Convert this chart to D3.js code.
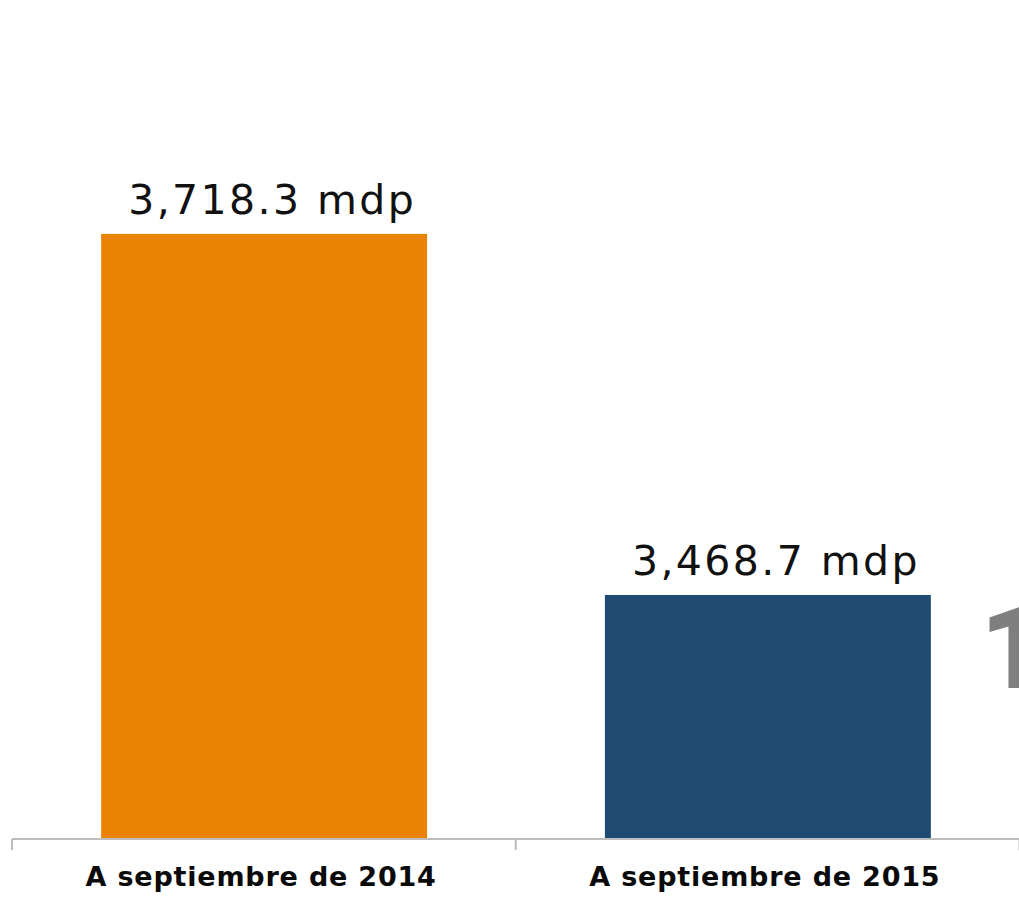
<!DOCTYPE html>
<html><head><meta charset="utf-8">
<script src="https://cdn.jsdelivr.net/npm/d3@7"></script>
<style>html,body{margin:0;padding:0;background:#fff;}</style>
</head><body>
<svg id="c" width="1019" height="901"></svg>
<script>
const categories = ["A septiembre de 2014", "A septiembre de 2015"];
const values = [3718.3, 3468.7];
const valueLabels = ["3,718.3 mdp", "3,468.7 mdp"];
const colors = ["#EA8204", "#1F4A71"];

const svg = d3.select("#c");
const baseY = 839;
const x = d3.scaleBand().domain(categories).range([12, 1020]).paddingInner(0.353).paddingOuter(0.177);
const y = d3.scaleLinear().domain([3300, 3880]).range([baseY, 0]);

svg.selectAll("rect.bar").data(values).join("rect")
  .attr("class", "bar")
  .attr("x", (d, i) => x(categories[i]))
  .attr("width", x.bandwidth())
  .attr("y", d => y(d))
  .attr("height", d => baseY - y(d))
  .attr("fill", (d, i) => colors[i]);

// axis line
const ax = svg.append("g").attr("transform", `translate(0,${baseY})`)
  .call(d3.axisBottom(x).tickSize(0).tickPadding(0));
ax.select(".domain").attr("stroke", "#BDBDBD").attr("stroke-width", 2).attr("d", "M12,0H1019");
ax.selectAll(".tick text").remove();
// boundary ticks
const bounds = [12, 12 + x.step(), 12 + 2 * x.step()];
ax.selectAll("line.b").data(bounds).join("line").attr("class", "b")
  .attr("x1", d => d).attr("x2", d => d).attr("y1", 0).attr("y2", 11)
  .attr("stroke", "#BDBDBD").attr("stroke-width", 2);

// category labels
svg.selectAll("text.cat").data(categories).join("text")
  .attr("class", "cat")
  .attr("x", d => x(d) + x.bandwidth() / 2 - 3)
  .attr("y", 886)
  .attr("text-anchor", "middle")
  .attr("font-family", "'DejaVu Sans', sans-serif")
  .attr("font-weight", "bold")
  .attr("font-size", 27)
  .attr("letter-spacing", 0.8)
  .attr("fill", "#0a0a0a")
  .text(d => d);

// value labels
svg.selectAll("text.val").data(values).join("text")
  .attr("class", "val")
  .attr("x", (d, i) => x(categories[i]) + x.bandwidth() / 2 + 8)
  .attr("y", d => y(d) - 20)
  .attr("text-anchor", "middle")
  .attr("font-family", "'DejaVu Sans', sans-serif")
  .attr("font-size", 41)
  .attr("letter-spacing", 2.4)
  .attr("fill", "#111")
  .text((d, i) => valueLabels[i]);

// cut-off big number at right edge
svg.append("text")
  .attr("x", 980).attr("y", 688)
  .attr("font-family", "Roboto, sans-serif")
  .attr("font-weight", 900)
  .attr("font-size", 117)
  .attr("fill", "#7F7F7F")
  .text("1");
</script>
</body></html>
